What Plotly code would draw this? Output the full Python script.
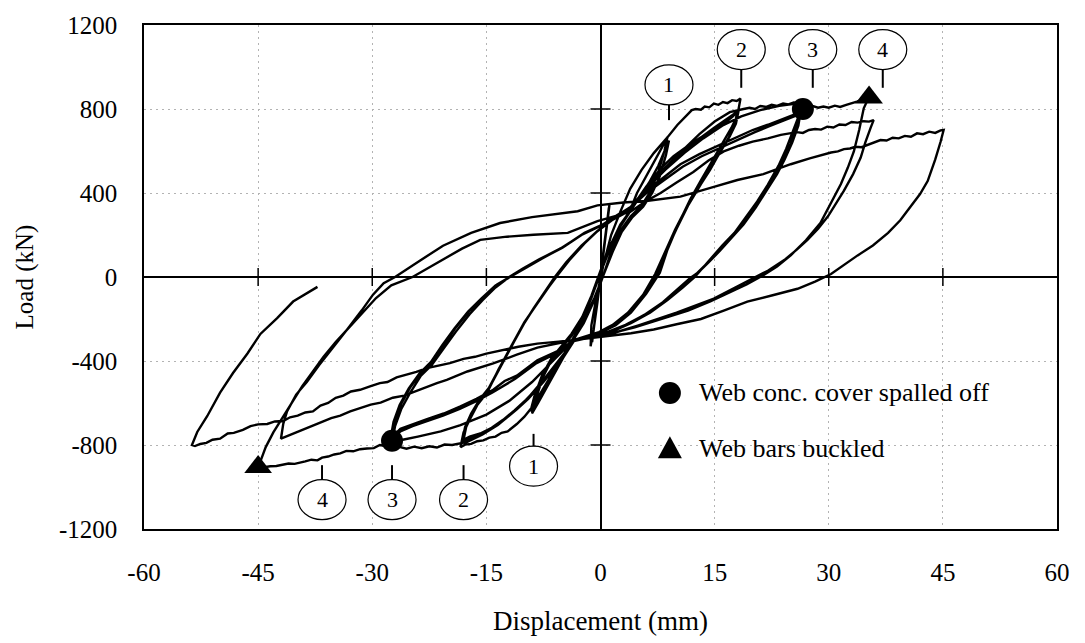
import plotly.graph_objects as go

# ---- axis ticks -------------------------------------------------------------
x_ticks = [-60, -45, -30, -15, 0, 15, 30, 45, 60]
x_tick_text = ["-60", "-45", "-30", "-15", "0", "15", "30", "45", "60"]
y_ticks = [-1200, -800, -400, 0, 400, 800, 1200]
y_tick_text = ["-1200", "-800", "-400", "0", "400", "800", "1200"]

# ---- load-displacement record, one list pair per cycle ---------------------
# elastic cycles
disp_c0 = [0, 0.4, 0.8, 1.1, 0.7, 0.2, -0.3, -0.8, -1.1, -0.7, -0.2, 0.3, 0.8, 1.2, 0.8, 0.2, -0.4, -0.9, -1.3]
load_c0 = [0, 120, 240, 330, 220, 80, -80, -220, -310, -200, -50, 100, 240, 350, 230, 60, -120, -250, -330]

# level 1 (about +/-9 mm)
disp_l1a = [-1.2, -0.5, 0.4, 1.4, 2.6, 3.9, 5.4, 7.0, 8.2, 8.8, 8.4, 7.6, 6.6, 5.4, 4.0, 2.6, 1.4, 0.4, -0.8,
            -2.2, -3.6, -4.8, -6.0, -7.2, -8.2, -9.0, -8.5, -7.6, -6.5, -5.2, -3.8, -2.4, -1.2, 0.0, 1.3, 2.6, 3.7]
load_l1a = [-230, -90, 60, 200, 310, 420, 510, 590, 640, 665, 600, 500, 410, 340, 290, 220, 120, 10, -110,
            -220, -300, -380, -460, -540, -600, -650, -580, -480, -400, -340, -280, -200, -100, 20, 140, 240, 300]
disp_l1b = [5.0, 6.4, 7.6, 8.6, 9.0, 8.6, 7.8, 6.8, 5.6, 4.2, 2.8, 1.6, 0.5, -0.8, -2.3, -3.6, -4.9, -6.2,
            -7.4, -8.4, -9.2, -8.7, -7.7, -6.5, -5.2, -3.8, -2.4, -1.2, 0.0, 1.3, 2.6, 3.8]
load_l1b = [370, 450, 530, 610, 650, 580, 480, 400, 335, 285, 215, 120, 20, -100, -210, -290, -370, -450,
            -530, -600, -640, -570, -470, -390, -330, -270, -190, -90, 30, 150, 250, 310]

# level 2 (about +/-18 mm)
disp_l2a = [4.8, 6.3, 7.8, 8.8, 10.1, 11.4, 12.0, 12.5, 13.2, 13.7, 14.3, 14.9, 15.5, 16.1, 16.7, 17.3, 17.9, 18.4,
            18.0, 17.2, 16.2, 14.8, 13.2, 11.8, 10.2, 8.8, 7.8, 6.0, 4.0, 2.0, 0.0, -2.0, -3.5,
            -5.0, -6.5, -8.0, -9.0, -10.0, -11.0, -12.2, -13.0, -13.8, -14.6, -15.4, -16.2, -17.0, -17.8, -18.4,
            -18.0, -17.2, -16.2, -14.9, -13.4, -11.8, -10.2, -8.8, -7.5, -6.0, -4.5, -2.5, -0.5, 1.5, 3.8]
load_l2a = [400, 500, 600, 665, 724, 770, 795, 800, 797, 812, 808, 826, 820, 833, 828, 842, 838, 850,
            770, 710, 650, 560, 460, 370, 250, 130, 20, -80, -170, -230, -265, -290, -305,
            -390, -470, -560, -620, -665, -700, -735, -742, -760, -765, -778, -782, -795, -798, -810,
            -740, -680, -610, -551, -440, -336, -230, -150, -80, 0, 70, 150, 215, 270, 315]
disp_l2b = [6.0, 8.0, 9.6, 11.5, 13.2, 14.9, 16.3, 17.5, 18.2,
            17.8, 17.0, 16.0, 14.6, 13.0, 11.5, 10.0, 8.6, 7.5, 5.8, 3.8, 1.8, 0.0, -2.0, -3.5,
            -5.5, -7.5, -9.5, -11.0, -12.5, -14.0, -15.5, -17.0, -18.2,
            -17.8, -17.0, -16.0, -14.7, -13.2, -11.6, -10.0, -8.6, -7.3, -5.8, -4.3, -2.3, -0.4, 1.6, 3.8]
load_l2b = [430, 520, 575, 625, 665, 710, 745, 775, 800,
            730, 670, 610, 520, 430, 340, 230, 120, 20, -80, -165, -225, -260, -285, -300,
            -410, -500, -580, -630, -675, -715, -745, -765, -785,
            -715, -650, -590, -530, -425, -320, -215, -140, -70, 5, 75, 155, 220, 275, 320]
disp_l2c = [6.2, 8.2, 9.8, 11.6, 13.4, 15.0, 16.4, 17.4, 18.0,
            17.6, 16.8, 15.8, 14.4, 12.8, 11.3, 9.8, 8.4, 7.2, 5.6, 3.6, 1.6, -0.2, -2.0, -3.5,
            -5.8, -7.8, -9.8, -11.3, -12.8, -14.3, -15.8, -17.2, -18.0,
            -17.6, -16.8, -15.8, -14.5, -13.0, -11.4, -9.8, -8.4, -7.1, -5.6, -4.1, -2.1, -0.2, 1.8, 3.9]
load_l2c = [425, 510, 565, 615, 660, 700, 735, 765, 790,
            720, 660, 600, 510, 420, 330, 225, 115, 15, -85, -170, -228, -262, -287, -302,
            -420, -510, -585, -635, -680, -718, -745, -760, -775,
            -705, -640, -580, -520, -415, -310, -205, -130, -62, 10, 80, 160, 225, 280, 322]

# level 3 (about +/-27 mm)
disp_l3a = [6.0, 8.5, 11.0, 13.0, 15.0, 17.0, 18.8, 19.6, 20.3, 21.0, 21.8, 22.5, 23.2, 24.0, 24.7, 25.4, 26.0, 26.6,
            26.2, 25.4, 24.4, 23.4, 22.0, 20.6, 19.0, 17.6, 16.0, 14.6, 13.2, 12.4, 10.8, 8.8, 6.5, 4.0, 1.5, -1.0, -3.5,
            -5.5, -7.5, -9.5, -11.5, -13.5, -15.5, -17.5, -19.5, -20.5, -21.5, -22.5, -23.5, -24.5, -25.5, -26.3, -27.0, -27.4,
            -27.0, -26.2, -25.0, -23.6, -22.2, -20.6, -19.0, -17.2, -15.5, -13.8, -12.0, -10.2, -8.0, -5.3, -2.5, 0.0, 2.0, 3.9]
load_l3a = [420, 520, 610, 680, 740, 785, 800, 806, 800, 814, 810, 820, 815, 826, 822, 831, 828, 835,
            780, 700, 610, 530, 440, 360, 280, 210, 150, 90, 35, 0, -50, -110, -170, -220, -260, -285, -305,
            -400, -490, -575, -645, -705, -750, -785, -800, -798, -812, -806, -815, -808, -818, -810, -805, -790,
            -710, -630, -550, -470, -420, -340, -260, -177, -110, -50, 0, 40, 85, 135, 200, 243, 290, 330]
disp_l3b = [6.0, 8.5, 10.5, 13.0, 15.8, 18.0, 20.0, 22.0, 23.8, 25.2, 26.3,
            26.0, 25.2, 24.2, 23.2, 21.8, 20.4, 18.8, 17.2, 15.7, 14.2, 12.8, 12.0, 10.3, 8.4, 6.0, 3.5, 1.0, -1.4, -3.5,
            -5.5, -8.3, -11.0, -12.6, -14.1, -16.3, -18.4, -20.6, -22.8, -24.6, -26.3, -27.6,
            -27.2, -26.4, -25.2, -23.8, -22.3, -20.8, -19.2, -17.4, -15.6, -13.8, -11.7, -9.8, -7.6, -5.0, -2.3, 0.2, 2.2, 4.0]
load_l3b = [410, 480, 537, 585, 630, 665, 700, 725, 750, 768, 785,
            720, 640, 560, 490, 410, 330, 250, 185, 125, 70, 20, 0, -55, -115, -175, -225, -262, -285, -302,
            -350, -397, -470, -495, -537, -580, -616, -650, -677, -700, -723, -770,
            -690, -610, -530, -460, -405, -325, -245, -165, -100, -40, 5, 45, 90, 140, 205, 248, 295, 332]
disp_l3c = [6.2, 8.7, 10.8, 13.3, 16.0, 18.2, 20.3, 22.2, 24.0, 25.3, 26.2,
            25.8, 25.0, 24.0, 23.0, 21.6, 20.2, 18.6, 17.0, 15.5, 14.0, 12.6, 11.8, 10.1, 8.2, 5.8, 3.3, 0.8, -1.5, -3.5,
            -5.6, -8.4, -11.2, -14.2, -16.4, -18.5, -20.7, -22.9, -24.7, -26.3, -27.4,
            -27.0, -26.2, -25.0, -23.6, -22.1, -20.6, -19.0, -17.2, -15.4, -13.6, -11.5, -9.6, -7.4, -4.8, -2.1, 0.4, 2.4, 4.0]
load_l3c = [405, 470, 525, 575, 620, 655, 690, 718, 742, 760, 775,
            715, 635, 555, 485, 405, 325, 245, 180, 120, 65, 15, -5, -60, -120, -180, -228, -264, -287, -302,
            -360, -410, -485, -550, -592, -628, -660, -688, -710, -735, -775,
            -685, -605, -525, -455, -400, -320, -240, -160, -95, -35, 10, 50, 95, 145, 210, 252, 298, 335]

# level 4 (about +35 / -45 mm)
disp_l4a = [6.0, 8.5, 11.0, 13.5, 16.0, 18.5, 21.0, 23.5, 25.5, 26.8, 27.4, 28.0, 28.6, 29.3, 30.0, 30.8, 31.5,
            32.3, 33.0, 33.7, 34.4, 35.3,
            34.6, 34.0, 33.3, 32.5, 31.6, 30.3, 28.9, 27.0, 25.0, 23.2, 21.4, 19.2, 17.1, 14.5, 11.5, 8.0, 4.5, 1.0, -1.5, -3.5,
            -6.0, -9.0, -12.0, -15.0, -18.4, -21.0, -24.0, -26.0, -27.4, -28.3, -29.0, -29.8, -30.7, -31.6, -32.5,
            -33.4, -34.2, -35.0, -35.8, -36.6, -37.2, -38.0, -38.8, -39.6, -40.2, -41.0, -41.8, -42.6, -43.4, -44.2, -45.0,
            -44.7, -44.0, -43.0, -41.8, -40.5, -39.2, -37.8, -36.4, -34.8, -33.0, -31.2, -29.5, -27.5, -24.7,
            -22.7, -20.7, -18.2, -15.8, -12.3, -8.8, -4.3, -0.4, 1.8, 3.9]
load_l4a = [420, 510, 590, 660, 720, 765, 795, 815, 825, 830, 820, 812, 806, 812, 806, 816, 810,
            820, 826, 835, 845, 858,
            803, 700, 598, 520, 443, 350, 257, 175, 103, 50, 9, -35, -70, -115, -160, -200, -240, -272, -288, -300,
            -390, -500, -590, -655, -705, -735, -760, -775, -790, -805, -800, -815, -817, -820, -830,
            -828, -840, -845, -855, -860, -873, -870, -878, -883, -890, -888, -895, -900, -901, -905, -910,
            -878, -810, -740, -670, -595, -520, -450, -380, -310, -240, -170, -100, -40, 0,
            42, 84, 135, 177, 192, 201, 210, 266, 290, 310]
disp_l4b = [5.9, 7.9, 10.0, 12.2, 14.2, 16.2, 18.2, 20.0, 22.0, 23.7, 25.8, 26.6, 27.4, 28.2, 29.0, 29.8, 30.6,
            31.4, 32.2, 33.0, 33.8, 34.6, 35.3, 35.9,
            35.5, 34.8, 34.2, 33.2, 32.0, 31.0, 29.9, 28.6, 27.2, 25.8, 24.3, 22.0, 20.2, 18.4, 14.9, 10.0, 5.0, 1.0, -3.5,
            -5.8, -8.3, -11.0, -14.1, -17.5, -20.2, -21.5, -22.8, -24.3, -25.8, -27.3, -28.9, -30.2, -31.6, -32.9,
            -34.2, -35.4, -36.6, -37.6, -38.6, -39.6, -40.5, -41.3, -42.0,
            -41.7, -41.2, -40.0, -38.6, -37.0, -35.2, -33.3, -31.4, -29.9, -28.5, -27.0, -24.5, -20.7, -17.0, -13.2,
            -9.0, -5.0, -3.0, -0.4, 3.0, 6.0]
load_l4b = [360, 400, 450, 500, 555, 598, 625, 645, 660, 677, 690, 686, 700, 705, 702, 716, 712,
            726, 724, 738, 735, 742, 740, 747,
            710, 640, 569, 490, 411, 350, 289, 230, 177, 130, 85, 30, -5, -37, -103, -170, -230, -275, -300,
            -318, -336, -370, -411, -450, -490, -505, -523, -545, -565, -575, -598, -608, -625, -640,
            -660, -672, -690, -705, -720, -735, -748, -758, -770,
            -700, -640, -560, -500, -420, -340, -250, -160, -84, -30, 0, 60, 149, 210, 257,
            285, 305, 313, 341, 355, 362]

# level 5 (about +45 / -54 mm) and final reversal
disp_l5 = [10.5, 14.9, 18.0, 21.4, 23.3, 25.0, 27.5, 30.3, 31.2, 32.0, 32.8, 33.5, 34.3, 35.1, 36.0, 36.8, 37.6,
           38.4, 39.2, 40.0, 40.8, 41.6, 42.4, 43.2, 44.0, 44.7, 45.1,
           44.9, 44.7, 44.0, 43.0, 42.0, 40.8, 39.4, 37.8, 35.8, 33.8, 32.0, 30.3, 28.2, 25.9, 22.5, 19.3, 16.2, 13.2,
           10.0, 7.0, 4.0, 1.0, -1.5, -3.5,
           -5.5, -8.3, -10.8, -13.2, -15.0, -16.5, -18.0, -19.8, -21.2, -22.8, -24.2, -25.5, -26.8, -28.0, -29.0,
           -30.2, -31.6, -32.8, -33.8, -34.8, -35.8, -36.8, -37.8, -38.8, -39.8, -40.8, -41.7, -42.8, -43.8, -45.0,
           -46.0, -47.0, -48.2, -49.0, -50.0, -51.0, -51.8, -52.6, -53.3, -53.7,
           -53.0, -51.7, -50.0, -48.3, -46.4, -44.7, -42.5, -40.4, -38.8, -37.2]
load_l5 = [383, 429, 462, 490, 515, 537, 565, 593, 598, 609, 612, 620, 618, 630, 640, 652, 650,
           663, 660, 672, 668, 684, 680, 692, 686, 698, 700,
           670, 644, 560, 457, 395, 336, 270, 210, 150, 103, 55, 14, -22, -56, -88, -117, -160, -200,
           -225, -250, -268, -282, -292, -300,
           -308, -317, -332, -350, -365, -380, -390, -410, -420, -434, -452, -465, -478, -500, -505,
           -520, -537, -545, -565, -575, -600, -612, -640, -645, -660, -668, -686, -688, -700, -702,
           -710, -728, -742, -745, -770, -775, -790, -795, -805, -800,
           -738, -663, -551, -457, -364, -271, -196, -117, -80, -47]

cycles = [
    (disp_c0, load_c0), (disp_l1a, load_l1a), (disp_l1b, load_l1b),
    (disp_l2a, load_l2a), (disp_l2b, load_l2b), (disp_l2c, load_l2c),
    (disp_l3a, load_l3a), (disp_l3b, load_l3b), (disp_l3c, load_l3c),
    (disp_l4a, load_l4a), (disp_l4b, load_l4b), (disp_l5, load_l5),
]

# ---- damage events ----------------------------------------------------------
spall_disp = [26.6, -27.4]
spall_load = [800, -780]
buckle_disp = [35.3, -45.0]
buckle_load = [855, -905]

# ---- circled cycle-level labels (text, x, stick from, stick to, label centre)
level_labels = ["1", "2", "3", "4", "1", "2", "3", "4"]
level_x = [9.0, 18.5, 27.9, 37.1, -8.8, -18.0, -27.4, -36.6]
stick_y0 = [747, 901, 901, 901, -747, -896, -896, -896]
stick_y1 = [831, 990, 990, 990, -817, -980, -980, -980]
label_y = [915, 1083, 1083, 1083, -901, -1060, -1060, -1060]

SERIF = "Liberation Serif, Times New Roman, serif"

all_x, all_y = [], []
for dx, ly in cycles:
    all_x += dx
    all_y += ly

fig = go.Figure()
fig.add_trace(go.Scatter(x=all_x, y=all_y, mode="lines",
                         line=dict(color="black", width=2.4), showlegend=False,
                         hoverinfo="skip"))
fig.add_trace(go.Scatter(x=spall_disp, y=spall_load, mode="markers",
                         marker=dict(symbol="circle", size=22, color="black"),
                         name="Web conc. cover spalled off", showlegend=False))
fig.add_trace(go.Scatter(x=buckle_disp, y=buckle_load, mode="markers",
                         marker=dict(symbol="triangle-up", size=24, color="black"),
                         name="Web bars buckled", showlegend=False))

shapes = []
# cross ticks on the zero lines
for v in x_ticks:
    if v in (-60, 0, 60):
        continue
    shapes.append(dict(type="line", xref="x", yref="y", x0=v, x1=v,
                       ysizemode="pixel", yanchor=0, y0=-9, y1=9,
                       line=dict(color="black", width=1.5)))
for v in y_ticks:
    if v in (-1200, 0, 1200):
        continue
    shapes.append(dict(type="line", xref="x", yref="y", y0=v, y1=v,
                       xsizemode="pixel", xanchor=0, x0=-10, x1=10,
                       line=dict(color="black", width=1.5)))

annotations = []
for t, lx, s0, s1, ly in zip(level_labels, level_x, stick_y0, stick_y1, label_y):
    shapes.append(dict(type="line", xref="x", yref="y", x0=lx, x1=lx, y0=s0, y1=s1,
                       line=dict(color="black", width=2)))
    shapes.append(dict(type="circle", xref="x", yref="y", xsizemode="pixel", ysizemode="pixel",
                       xanchor=lx, yanchor=ly, x0=-24, x1=24, y0=-20, y1=20,
                       line=dict(color="black", width=1.2), fillcolor="white"))
    annotations.append(dict(x=lx, y=ly, xref="x", yref="y", text=t, showarrow=False,
                            font=dict(family=SERIF, size=22, color="black")))

# key for the damage symbols
key_x = 0.576
key_y = [0.270, 0.160]
key_text = ["Web conc. cover spalled off", "Web bars buckled"]
shapes.append(dict(type="circle", xref="paper", yref="paper", xsizemode="pixel", ysizemode="pixel",
                   xanchor=key_x, yanchor=key_y[0], x0=-11, x1=11, y0=-11, y1=11,
                   fillcolor="black", line=dict(color="black", width=0)))
shapes.append(dict(type="path", xref="paper", yref="paper", xsizemode="pixel", ysizemode="pixel",
                   xanchor=key_x, yanchor=key_y[1], path="M -12 -10 L 12 -10 L 0 12 Z",
                   fillcolor="black", line=dict(color="black", width=0)))
for ky, kt in zip(key_y, key_text):
    annotations.append(dict(x=key_x, y=ky, xref="paper", yref="paper", xshift=27,
                            xanchor="left", yanchor="middle", text=kt, showarrow=False,
                            font=dict(family=SERIF, size=26, color="black")))

axis_common = dict(showline=True, mirror=True, linecolor="black", linewidth=1.5,
                   showgrid=True, gridcolor="#b3b3b3", griddash="2px,4px", gridwidth=1,
                   zeroline=True, zerolinecolor="black", zerolinewidth=1.5,
                   ticks="", tickfont=dict(family=SERIF, size=25, color="black"))

fig.update_layout(
    width=1085, height=643,
    margin=dict(l=144, r=28, t=18, b=111),
    paper_bgcolor="white", plot_bgcolor="white",
    xaxis=dict(range=[-60, 60], tickvals=x_ticks, ticktext=x_tick_text,
               ticklabelstandoff=20,
               title=dict(text="Displacement (mm)", font=dict(family=SERIF, size=27, color="black"),
                          standoff=26),
               **axis_common),
    yaxis=dict(range=[-1200, 1200], tickvals=y_ticks, ticktext=y_tick_text,
               ticklabelstandoff=20,
               title=dict(text="Load (kN)", font=dict(family=SERIF, size=25, color="black"),
                          standoff=18),
               **axis_common),
    shapes=shapes, annotations=annotations, showlegend=False,
)

fig.write_html("out.html")
